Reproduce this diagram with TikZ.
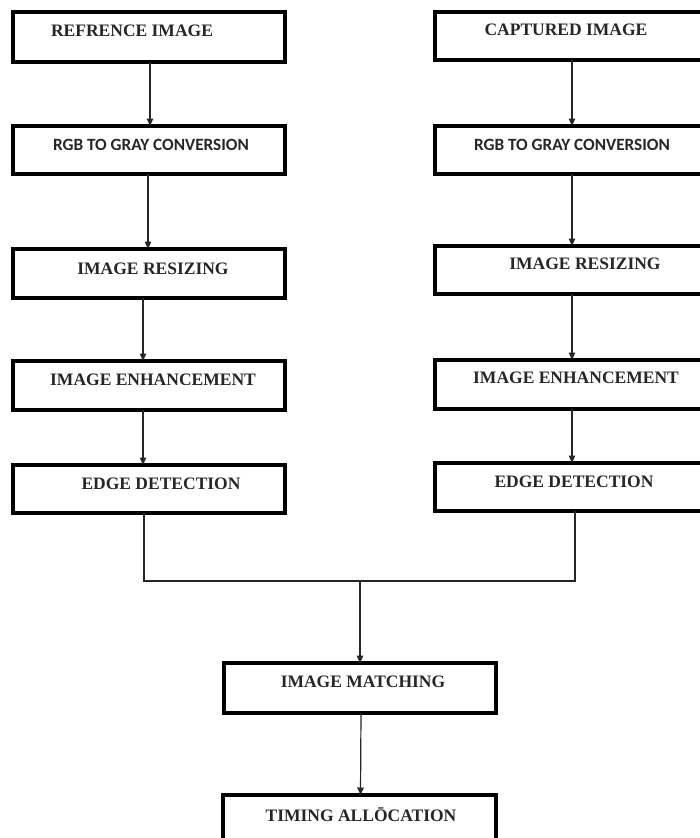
\documentclass[tikz,border=0pt]{standalone}
\usepackage{fontspec}
\setmainfont{Liberation Serif}
\newfontfamily\carlito{Carlito}
\usetikzlibrary{arrows.meta,calc}
\begin{document}
\begin{tikzpicture}[x=1pt,y=-1pt,
  box/.style={draw=black,line width=3.2pt,minimum width=272pt,inner sep=0pt,outer sep=0pt},
  rbox/.style={box,minimum width=270pt},
  txt/.style={font=\fontsize{17.5}{20}\selectfont\bfseries,inner sep=0pt,text=black!85},
  stxt/.style={font=\fontsize{17.2}{20}\selectfont\carlito\bfseries,inner sep=0pt,text=black!85},
  arr/.style={draw=black!85,line width=1.2pt,-{Triangle[width=6.5pt,length=7.5pt]}},
  ln/.style={draw=black!85,line width=1.2pt}]
\useasboundingbox (0,0) rectangle (699,838);
% left column
\node[box,minimum height=50pt] (l1) at (149,37) {};
\node[box,minimum height=48pt] (l2) at (149,150) {};
\node[box,minimum height=49pt] (l3) at (149,273.5) {};
\node[box,minimum height=49pt] (l4) at (149,385.5) {};
\node[box,minimum height=48pt] (l5) at (149,489) {};
% right column
\node[rbox,minimum height=48pt] (r1) at (570,36) {};
\node[rbox,minimum height=48pt] (r2) at (570,150) {};
\node[rbox,minimum height=48pt] (r3) at (570,270) {};
\node[rbox,minimum height=49pt] (r4) at (570,384.5) {};
\node[rbox,minimum height=48pt] (r5) at (570,487) {};
% bottom
\node[box,minimum height=50pt] (m) at (360,688) {};
\node[box,minimum width=273pt,minimum height=55pt] (t) at (359.5,822.5) {};
% texts
\node[txt] (tl1) at ($(l1)+(-17,-6)$) {REFRENCE IMAGE};
\node[stxt] (tl2) at ($(l2)+(2,-5)$) {RGB TO GRAY CONVERSION};
\node[txt] (tl3) at ($(l3)+(4,-4.5)$) {IMAGE RESIZING};
\node[txt] (tl4) at ($(l4)+(4,-5.5)$) {IMAGE ENHANCEMENT};
\node[txt] (tl5) at ($(l5)+(12,-5)$) {EDGE DETECTION};
\node[txt] (tr1) at ($(r1)+(-4,-6)$) {CAPTURED IMAGE};
\node[stxt] (tr2) at ($(r2)+(2,-5)$) {RGB TO GRAY CONVERSION};
\node[txt] (tr3) at ($(r3)+(15,-6)$) {IMAGE RESIZING};
\node[txt] (tr4) at ($(r4)+(6,-6.5)$) {IMAGE ENHANCEMENT};
\node[txt] (tr5) at ($(r5)+(4,-5)$) {EDGE DETECTION};
\node[txt] (tm) at ($(m)+(3,-6)$) {IMAGE MATCHING};
\node[txt] (tt) at (361,815) {TIMING ALLŌCATION};
% left arrows
\draw[arr] ([xshift=1pt]l1.south) -- ([xshift=1pt]l2.north);
\draw[arr] ([xshift=-1pt]l2.south) -- ([xshift=-1pt]l3.north);
\draw[arr] ([xshift=-6pt]l3.south) -- ([xshift=-6pt]l4.north);
\draw[arr] ([xshift=-6pt]l4.south) -- ([xshift=-6pt]l5.north);
% right arrows
\draw[arr] ([xshift=2pt]r1.south) -- ([xshift=2pt]r2.north);
\draw[arr] ([xshift=2pt]r2.south) -- ([xshift=2pt]r3.north);
\draw[arr] ([xshift=2pt]r3.south) -- ([xshift=2pt]r4.north);
\draw[arr] ([xshift=2pt]r4.south) -- ([xshift=2pt]r5.north);
% merge
\coordinate (jl) at ($(l5.south)+(-5,68)$);
\coordinate (jr) at ($(r5.south)+(5,70)$);
\coordinate (jm) at ($(m.north)+(0,-82)$);
\draw[ln] ([xshift=-5pt]l5.south) -- (jl) -- (jr) -- ([xshift=5pt]r5.south);
\draw[arr] (jm) -- (m.north);
\draw[arr] ([xshift=1pt]m.south) -- ([xshift=1pt]t.north);
\end{tikzpicture}
\end{document}
